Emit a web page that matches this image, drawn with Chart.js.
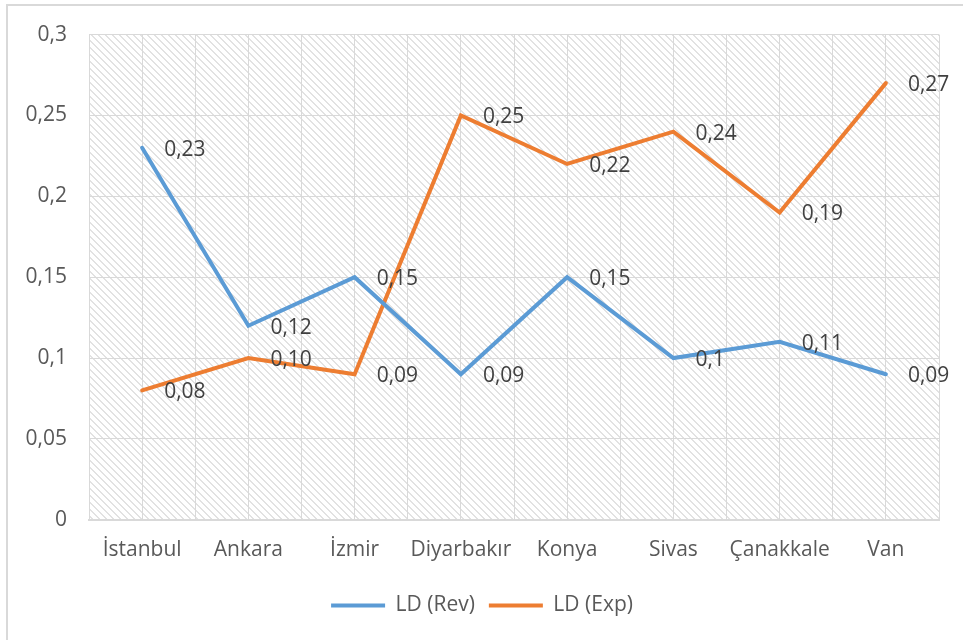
<!DOCTYPE html>
<html>
<head>
<meta charset="utf-8">
<script src="https://cdn.jsdelivr.net/npm/chart.js@4"></script>
<style>
  body { margin: 0; background: #fff; }
  #wrap { width: 963px; height: 640px; }
</style>
</head>
<body>
<div id="wrap"><canvas id="myChart" width="963" height="640"></canvas></div>
<script>
// data
const cities = ['İstanbul', 'Ankara', 'İzmir', 'Diyarbakır', 'Konya', 'Sivas', 'Çanakkale', 'Van'];
const ldRev = [0.23, 0.12, 0.15, 0.09, 0.15, 0.1, 0.11, 0.09];
const ldExp = [0.08, 0.10, 0.09, 0.25, 0.22, 0.24, 0.19, 0.27];
const ldRevLabels = ['0,23', '0,12', '0,15', '0,09', '0,15', '0,1', '0,11', '0,09'];
const ldExpLabels = ['0,08', '0,10', '0,09', '0,25', '0,22', '0,24', '0,19', '0,27'];
const yTickLabels = ['0', '0,05', '0,1', '0,15', '0,2', '0,25', '0,3'];

const FONT = "'Open Sans', sans-serif";

// hatched plot background (wide downward diagonal)
function makeHatch() {
  const n = 7;
  const c = document.createElement('canvas');
  c.width = n; c.height = n;
  const g = c.getContext('2d');
  g.fillStyle = '#ffffff';
  g.fillRect(0, 0, n, n);
  g.fillStyle = '#e2e2e2';
  for (let i = 0; i < n; i++) {
    g.fillRect(i, i, 1, 1);
    g.fillRect((i + 1) % n, i, 1, 1);
  }
  return c;
}

const hatchPlugin = {
  id: 'hatch',
  beforeDraw(chart) {
    const ctx = chart.ctx;
    const a = chart.chartArea;
    ctx.save();
    ctx.fillStyle = '#fff';
    ctx.fillRect(0, 0, chart.width, chart.height);
    // outer frame (only left/top visible in the crop)
    ctx.strokeStyle = '#d9d9d9';
    ctx.lineWidth = 2;
    ctx.beginPath();
    ctx.moveTo(7, chart.height);
    ctx.lineTo(7, 5);
    ctx.lineTo(chart.width, 5);
    ctx.stroke();
    ctx.fillStyle = ctx.createPattern(makeHatch(), 'repeat');
    ctx.fillRect(a.left, a.top, a.right - a.left, a.bottom - a.top);
    ctx.restore();
  }
};

const labelPlugin = {
  id: 'valueLabels',
  afterDatasetsDraw(chart) {
    const ctx = chart.ctx;
    const texts = [ldRevLabels, ldExpLabels];
    ctx.save();
    ctx.font = '21px ' + FONT;
    ctx.fillStyle = '#404040';
    ctx.textAlign = 'left';
    ctx.textBaseline = 'middle';
    chart.data.datasets.forEach((ds, di) => {
      chart.getDatasetMeta(di).data.forEach((pt, i) => {
        ctx.fillText(texts[di][i], pt.x + 22, pt.y + 2);
      });
    });
    ctx.restore();
  }
};

const ctx = document.getElementById('myChart').getContext('2d');
new Chart(ctx, {
  type: 'line',
  data: {
    labels: cities,
    datasets: [
      {
        label: 'LD (Rev)',
        data: ldRev,
        borderColor: '#5B9BD5',
        backgroundColor: '#5B9BD5',
        borderWidth: 4,
        borderCapStyle: 'round',
        pointRadius: 0,
        tension: 0
      },
      {
        label: 'LD (Exp)',
        data: ldExp,
        borderColor: '#ED7D31',
        backgroundColor: '#ED7D31',
        borderWidth: 4,
        borderCapStyle: 'round',
        pointRadius: 0,
        tension: 0
      }
    ]
  },
  options: {
    responsive: false,
    animation: false,
    layout: { padding: { left: 25, right: 24, top: 33, bottom: 14 } },
    plugins: {
      legend: {
        position: 'bottom',
        labels: {
          usePointStyle: true,
          pointStyle: 'line',
          pointStyleWidth: 54,
          padding: 14,
          color: '#595959',
          font: { family: FONT, size: 21 }
        }
      },
      tooltip: { enabled: false }
    },
    scales: {
      x: {
        offset: true,
        grid: { offset: true, color: '#d9d9d9', lineWidth: 1, drawTicks: false },
        border: { color: '#d9d9d9', width: 2 },
        ticks: { color: '#595959', padding: 18, font: { family: FONT, size: 21 }, maxRotation: 0 }
      },
      x2: {
        type: 'category',
        labels: cities,
        offset: true,
        position: 'bottom',
        grid: { offset: false, color: '#d9d9d9', lineWidth: 1, drawTicks: false },
        border: { display: false },
        ticks: { display: false },
        afterFit(s) { s.height = 0; }
      },
      y: {
        min: 0,
        max: 0.3,
        grid: { color: '#d9d9d9', lineWidth: 1, drawTicks: false },
        border: { display: false },
        ticks: {
          stepSize: 0.05,
          padding: 22,
          color: '#595959',
          font: { family: FONT, size: 21 },
          callback: (v, i) => yTickLabels[i]
        },
        afterFit(s) { s.width = 64; }
      }
    }
  },
  plugins: [hatchPlugin, labelPlugin]
});
</script>
</body>
</html>
